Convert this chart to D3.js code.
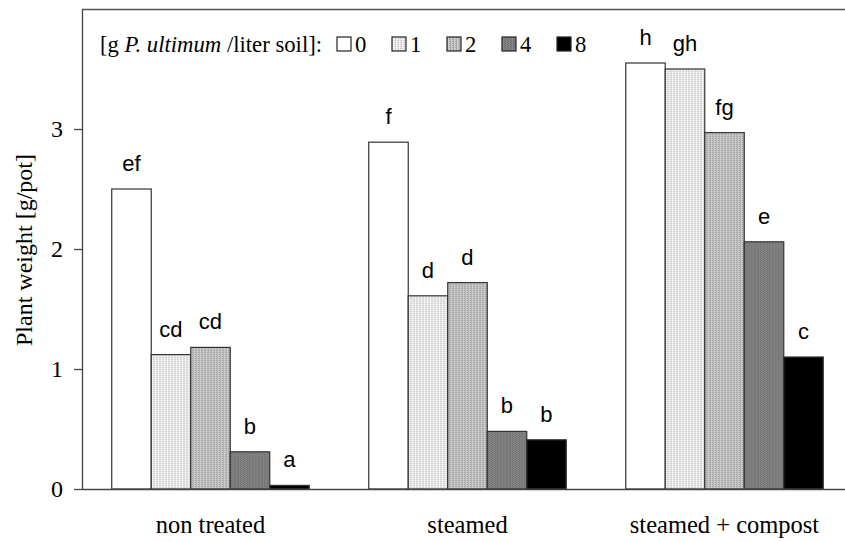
<!DOCTYPE html>
<html>
<head>
<meta charset="utf-8">
<script src="https://cdn.jsdelivr.net/npm/d3@7"></script>
<style>
  body { margin: 0; background: white; }
</style>
</head>
<body>
<div id="canvas"></div>
<script>
var width = 845;
var height = 541;

// data
const treatments = ["non treated", "steamed", "steamed + compost"];
const doses = ["0", "1", "2", "4", "8"];
const weights = [
    [2.50, 1.12, 1.18, 0.31, 0.03],
    [2.89, 1.61, 1.72, 0.48, 0.41],
    [3.55, 3.50, 2.97, 2.06, 1.10]
];
const letters = [
    ["ef", "cd", "cd", "b", "a"],
    ["f", "d", "d", "b", "b"],
    ["h", "gh", "fg", "e", "c"]
];
const yTicks = [0, 1, 2, 3];

const plotLeft = 82, plotTop = 9, plotBottom = 489;

var svg = d3.select("#canvas").append("svg")
    .attr("width", width)
    .attr("height", height)
    .style("background-color", "white");

// fill patterns for the dose levels
const defs = svg.append("defs");
function addPattern(id, bg, fg, dots) {
    const p = defs.append("pattern")
        .attr("id", id)
        .attr("width", 3).attr("height", 2)
        .attr("patternUnits", "userSpaceOnUse");
    p.append("rect").attr("width", 3).attr("height", 2).attr("fill", bg);
    dots.forEach(d => {
        p.append("rect").attr("x", d[0]).attr("y", d[1])
            .attr("width", 1).attr("height", 1).attr("fill", fg);
    });
}
addPattern("p1", "#f6f6f6", "#d2d2d2", [[0, 0], [0, 1], [2, 1]]);
addPattern("p2", "#cfcfcf", "#a8a8a8", [[0, 0], [0, 1], [2, 0]]);
addPattern("p4", "#858585", "#6c6c6c", [[0, 0], [2, 1]]);

const fills = ["#ffffff", "url(#p1)", "url(#p2)", "url(#p4)", "#000000"];

const x0 = d3.scaleBand()
    .domain(treatments)
    .range([plotLeft, plotLeft + 3 * 257])
    .paddingInner(0.2315)
    .paddingOuter(0.1157);

const x1 = d3.scaleBand()
    .domain(doses)
    .range([0, x0.bandwidth()]);

const y = d3.scaleLinear()
    .domain([0, 4])
    .range([plotBottom, plotTop]);

// frame top line
svg.append("line")
    .attr("x1", plotLeft).attr("x2", width)
    .attr("y1", plotTop + 0.5).attr("y2", plotTop + 0.5)
    .attr("stroke", "#555").attr("stroke-width", 1.3);

// bars
const groups = svg.selectAll(".group")
    .data(treatments)
    .enter().append("g")
    .attr("class", "group")
    .attr("transform", d => "translate(" + x0(d) + ",0)");

groups.selectAll("rect")
    .data((d, i) => weights[i].map((v, j) => ({ dose: doses[j], v: v, j: j, label: letters[i][j] })))
    .enter().append("rect")
    .attr("x", d => x1(d.dose))
    .attr("y", d => y(d.v))
    .attr("width", x1.bandwidth())
    .attr("height", d => y(0) - y(d.v))
    .attr("fill", d => fills[d.j])
    .attr("stroke", "#333")
    .attr("stroke-width", 1.2);

groups.selectAll(".lab")
    .data((d, i) => weights[i].map((v, j) => ({ dose: doses[j], v: v, label: letters[i][j] })))
    .enter().append("text")
    .attr("class", "lab")
    .attr("x", d => x1(d.dose) + x1.bandwidth() / 2)
    .attr("y", d => y(d.v) - 18)
    .attr("text-anchor", "middle")
    .style("font-family", "Liberation Sans, Arial, sans-serif")
    .style("font-size", "22px")
    .text(d => d.label);

// y axis
const yAxis = svg.append("g")
    .attr("transform", "translate(" + plotLeft + ",0)")
    .call(d3.axisLeft(y).tickValues(yTicks).tickFormat(d3.format("d"))
        .tickSize(8).tickSizeOuter(0).tickPadding(11));
yAxis.select(".domain").attr("stroke", "#444").attr("stroke-width", 1.3);
yAxis.selectAll(".tick line").attr("stroke", "#444").attr("stroke-width", 1.3);
yAxis.selectAll("text")
    .style("font-family", "Liberation Serif, Times New Roman, serif")
    .style("font-size", "24px")
    .attr("fill", "#000");

// x axis line
svg.append("line")
    .attr("x1", plotLeft).attr("x2", width)
    .attr("y1", plotBottom + 0.5).attr("y2", plotBottom + 0.5)
    .attr("stroke", "#444").attr("stroke-width", 1.3);

// category labels
svg.selectAll(".cat")
    .data(treatments)
    .enter().append("text")
    .attr("class", "cat")
    .attr("x", d => x0(d) + x0.bandwidth() / 2)
    .attr("y", 533)
    .attr("text-anchor", "middle")
    .style("font-family", "Liberation Serif, Times New Roman, serif")
    .style("font-size", "24.5px")
    .text(d => d);

// y label
svg.append("text")
    .attr("transform", "translate(32,250) rotate(-90)")
    .attr("text-anchor", "middle")
    .style("font-family", "Liberation Serif, Times New Roman, serif")
    .style("font-size", "24px")
    .text("Plant weight [g/pot]");

// legend
const legTitle = svg.append("text")
    .attr("x", 100).attr("y", 52)
    .style("font-family", "Liberation Serif, Times New Roman, serif")
    .style("font-size", "22.7px");
legTitle.append("tspan").text("[g ");
legTitle.append("tspan").style("font-style", "italic").text("P. ultimum");
legTitle.append("tspan").text(" /liter soil]:");

const leg = svg.selectAll(".leg")
    .data(doses)
    .enter().append("g")
    .attr("class", "leg")
    .attr("transform", (d, i) => "translate(" + (337 + i * 55) + ",37)");
leg.append("rect")
    .attr("width", 14).attr("height", 14)
    .attr("fill", (d, i) => fills[i])
    .attr("stroke", "#222").attr("stroke-width", 1.2);
leg.append("text")
    .attr("x", 18).attr("y", 15)
    .style("font-family", "Liberation Serif, Times New Roman, serif")
    .style("font-size", "22.7px")
    .text(d => d);
</script>
</body>
</html>
